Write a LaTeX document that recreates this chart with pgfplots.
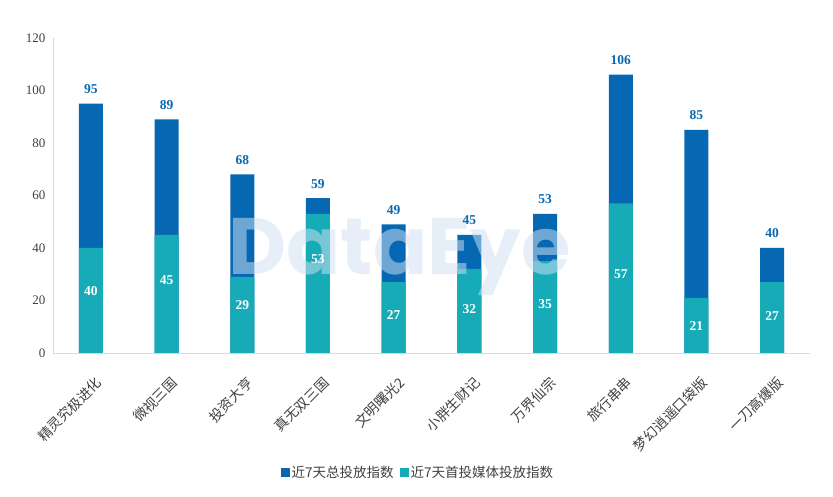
\documentclass[border=0pt]{standalone}
\usepackage{fontspec}
\setmainfont{Liberation Serif}
\newfontfamily\cjk{Noto Sans CJK SC}
\newfontfamily\wm{Poppins}
\usepackage{pgfplots}
\pgfplotsset{compat=1.18}
\usepackage{pgfplotstable}
\definecolor{darkb}{RGB}{6,104,178}
\definecolor{tealb}{RGB}{23,170,183}
\definecolor{axgray}{RGB}{217,217,217}
\definecolor{txt}{RGB}{64,64,64}
\definecolor{wmc}{RGB}{207,225,242}

\pgfplotstableread{
x total first ly
0 95 40 23.6
1 89 45 27.8
2 68 29 18.3
3 59 53 35.8
4 49 27 14.5
5 45 32 16.7
6 53 35 18.7
7 106 57 30
8 85 21 10.3
9 40 27 14
}\data

\begin{document}
\begin{tikzpicture}
\useasboundingbox (0,0) rectangle (833pt,497pt);
\begin{axis}[
  at={(53pt,144pt)}, anchor=south west,
  scale only axis, width=757pt, height=315pt,
  xmin=-0.5, xmax=9.5, ymin=0, ymax=120,
  axis x line*=bottom, axis y line*=left,
  axis line style={axgray, line width=0.8pt, -},
  bar width=24pt,
  xtick={0,...,9},
  xticklabels={精灵究极进化,微视三国,投资大亨,真无双三国,文明曙光2,小胖生财记,万界仙宗,旅行串串,梦幻逍遥口袋版,一刀高爆版},
  xticklabel style={font=\cjk\fontsize{13.8}{13.8}\selectfont, text=txt, rotate=45, anchor=east, xshift=-10pt, yshift=-25pt},
  ytick={0,20,...,120},
  yticklabel style={font=\fontsize{13}{13}\selectfont, text=txt, xshift=-4pt},
  /pgf/number format/assume math mode=true,
  major tick length=0pt,
  legend columns=2,
  legend style={at={(0.482,-0.378)}, anchor=center, draw=none, fill=none,
    font=\cjk\fontsize{13.5}{13.5}\selectfont, text=txt,
    /tikz/every even column/.append style={column sep=4pt}},
  legend image code/.code={\fill[#1] (0pt,-4.5pt) rectangle (9pt,4.5pt);},
]
\addplot[ybar, bar shift=0pt, fill=darkb, draw=none]
  table[x=x, y=total]{\data};
\addlegendentry{近7天总投放指数}
\addplot[ybar, bar shift=0pt, fill=tealb, draw=none]
  table[x=x, y=first]{\data};
\addlegendentry{近7天首投媒体投放指数}
\node[text=wmc, text opacity=0.52, inner sep=0pt, anchor=base west,
  font=\wm\bfseries\fontsize{80}{80}\selectfont] at (rel axis cs:0.2312,0.2476) {DataEye};
\addplot[forget plot, draw=none, mark=none, nodes near coords,
  nodes near coords style={anchor=base, inner sep=0pt, yshift=10pt, text=darkb,
    font=\bfseries\fontsize{13.5}{13.5}\selectfont}]
  table[x=x, y=total]{\data};
\addplot[forget plot, draw=none, mark=none, nodes near coords, point meta=explicit,
  nodes near coords style={anchor=center, inner sep=0pt, text=white,
    font=\bfseries\fontsize{13.5}{13.5}\selectfont}]
  table[x=x, y=ly, meta=first]{\data};
\end{axis}
\end{tikzpicture}
\end{document}
